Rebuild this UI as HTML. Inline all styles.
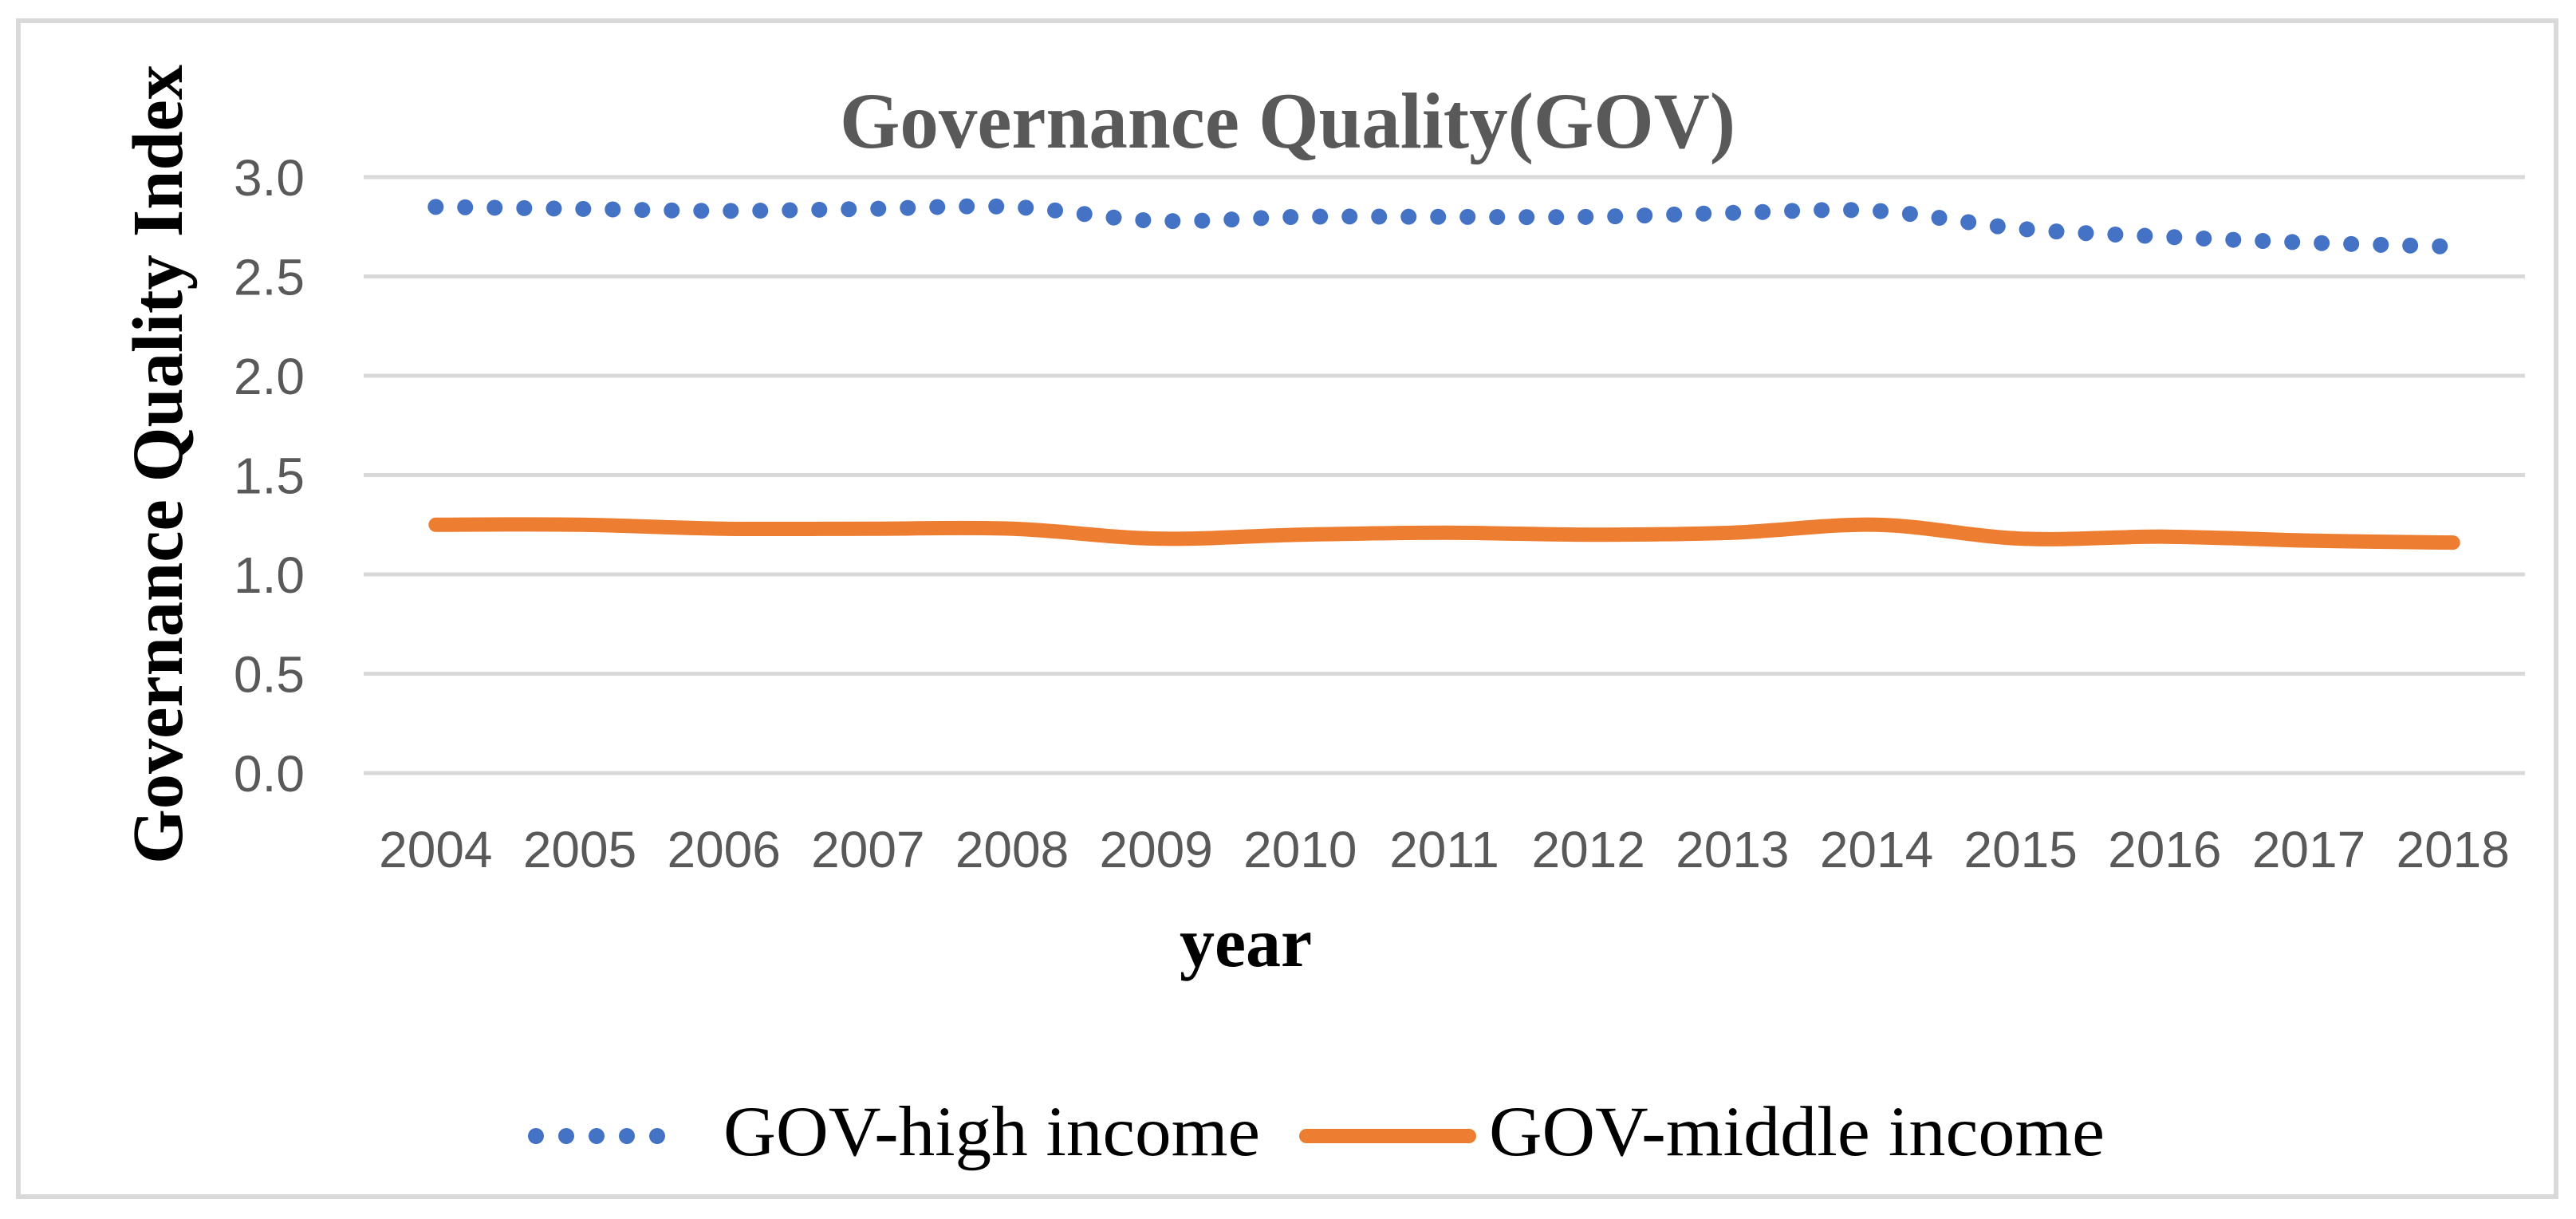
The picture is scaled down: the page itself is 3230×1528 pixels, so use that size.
<!DOCTYPE html>
<html><head><meta charset="utf-8"><style>
html,body{margin:0;padding:0;background:#fff;}
svg{display:block;}
</style></head><body>
<svg id="chart" width="3230" height="1528" viewBox="0 0 3230 1528" xmlns="http://www.w3.org/2000/svg">
<rect x="23" y="26" width="3182" height="1474" fill="#fff" stroke="#d9d9d9" stroke-width="6"/>
<text x="1053" y="185" textLength="1123" lengthAdjust="spacingAndGlyphs" font-family="Liberation Serif, serif" font-weight="bold" font-size="100" fill="#595959">Governance Quality(GOV)</text>
<text transform="translate(228,1083) rotate(-90)" textLength="1002" lengthAdjust="spacingAndGlyphs" font-family="Liberation Serif, serif" font-weight="bold" font-size="90" fill="#000">Governance Quality Index</text>
<text x="1562" y="1211" text-anchor="middle" font-family="Liberation Serif, serif" font-weight="bold" font-size="88" fill="#000">year</text>
<g id="grid"></g>
<g id="yticks"></g>
<g id="xticks"></g>
<g id="series"></g>
<g>
  <g>
    <line x1="672" y1="1424" x2="862" y2="1424" stroke="#4472c4" stroke-width="20" stroke-linecap="round" stroke-dasharray="0 38"/>
    <text x="907" y="1448" textLength="673" lengthAdjust="spacingAndGlyphs" font-family="Liberation Serif, serif" font-size="89" fill="#000">GOV-high income</text>
  </g>
  <g>
    <line x1="1638" y1="1424" x2="1842" y2="1424" stroke="#ed7d31" stroke-width="18" stroke-linecap="round"/>
    <text x="1867" y="1448" textLength="772" lengthAdjust="spacingAndGlyphs" font-family="Liberation Serif, serif" font-size="89" fill="#000">GOV-middle income</text>
  </g>
</g>
</svg>
<script>
const categories = ["2004","2005","2006","2007","2008","2009","2010","2011","2012","2013","2014","2015","2016","2017","2018"];
const highIncome = [2.85,2.84,2.83,2.84,2.85,2.78,2.80,2.80,2.80,2.82,2.83,2.74,2.70,2.67,2.65];
const middleIncome = [1.25,1.25,1.23,1.23,1.23,1.18,1.20,1.21,1.20,1.21,1.25,1.18,1.19,1.17,1.16];
const yTicks = [0,0.5,1,1.5,2,2.5,3];
const yTickLabels = ["0.0","0.5","1.0","1.5","2.0","2.5","3.0"];

const NS = "http://www.w3.org/2000/svg";
const plotL = 456, plotR = 3166, yTop = 222, yBot = 969, yMin = 0, yMax = 3;
const band = (plotR - plotL) / categories.length;
function xPos(i){ return plotL + band * (i + 0.5); }
function yPos(v){ return yBot - (v - yMin) / (yMax - yMin) * (yBot - yTop); }
function mk(tag, attrs, parent){ const e = document.createElementNS(NS, tag); for (const k in attrs) e.setAttribute(k, attrs[k]); parent.appendChild(e); return e; }

const grid = document.getElementById('grid');
const yt = document.getElementById('yticks');
yTicks.forEach((t, i) => {
  const l = mk('line', {x1: plotL, x2: plotR, y1: yPos(t), y2: yPos(t), stroke: '#d9d9d9', 'stroke-width': 5}, grid);
  
  
  const tx = mk('text', {x: 382, y: yPos(t) + 23, 'text-anchor': 'end', 'font-family': 'Liberation Sans, sans-serif', 'font-size': 64, fill: '#595959'}, yt);
  tx.textContent = yTickLabels[i];
  
  
});
const xt = document.getElementById('xticks');
categories.forEach((c, i) => {
  const tx = mk('text', {x: xPos(i), y: 1087, 'text-anchor': 'middle', 'font-family': 'Liberation Sans, sans-serif', 'font-size': 64, fill: '#595959'}, xt);
  tx.textContent = c;
  
  
});

function smoothPath(vals){
  const pts = vals.map((v, i) => [xPos(i), yPos(v)]);
  let d = `M${pts[0][0]},${pts[0][1]}`;
  for (let i = 0; i < pts.length - 1; i++) {
    const p0 = pts[Math.max(0, i - 1)], p1 = pts[i], p2 = pts[i + 1], p3 = pts[Math.min(pts.length - 1, i + 2)];
    const t = 1/6;
    const c1 = [p1[0] + (p2[0] - p0[0]) * t, p1[1] + (p2[1] - p0[1]) * t];
    const c2 = [p2[0] - (p3[0] - p1[0]) * t, p2[1] - (p3[1] - p1[1]) * t];
    d += ` C${c1[0]},${c1[1]} ${c2[0]},${c2[1]} ${p2[0]},${p2[1]}`;
  }
  return d;
}
const series = document.getElementById('series');
const hi = mk('path', {d: smoothPath(highIncome), fill: 'none', stroke: '#4472c4', 'stroke-width': 20, 'stroke-linecap': 'round', 'stroke-dasharray': '0 37'}, series);


const mid = mk('path', {d: smoothPath(middleIncome), fill: 'none', stroke: '#ed7d31', 'stroke-width': 18, 'stroke-linecap': 'round', 'stroke-linejoin': 'round'}, series);


</script>
</body></html>
